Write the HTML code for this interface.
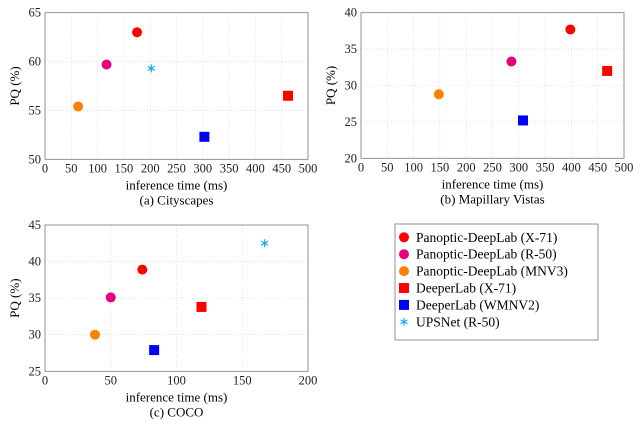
<!DOCTYPE html>
<html><head><meta charset="utf-8"><style>
body{margin:0;background:#fff}
svg, svg text{font-family:"Liberation Serif","Times New Roman","DejaVu Serif",serif}
</style></head><body>
<svg id="fig" width="640" height="426" viewBox="0 0 640 426"></svg>
<script>
const seriesNames=["Panoptic-DeepLab (X-71)","Panoptic-DeepLab (R-50)","Panoptic-DeepLab (MNV3)","DeeperLab (X-71)","DeeperLab (WMNV2)","UPSNet (R-50)"];
const seriesColors=["#ff0000","#e6007e","#ff7f00","#ff0000","#0000ff","#00aaff"];
const seriesShapes=["circle","circle","circle","square","square","star"];
const cityTime=[175,117,63,462,303,202];
const cityPQ=[63,59.7,55.4,56.5,52.3,59.3];
const vistasTime=[398,286,148,468,308,null];
const vistasPQ=[37.7,33.3,28.8,32,25.2,null];
const cocoTime=[74,50,38,119,83,167];
const cocoPQ=[38.9,35.1,30,33.8,27.9,42.5];
const cityXTicks=[0,50,100,150,200,250,300,350,400,450,500];
const cityYTicks=[50,55,60,65];
const vistasXTicks=[0,50,100,150,200,250,300,350,400,450,500];
const vistasYTicks=[20,25,30,35,40];
const cocoXTicks=[0,50,100,150,200];
const cocoYTicks=[25,30,35,40,45];

const NS="http://www.w3.org/2000/svg";
const FONT='"Liberation Serif","Times New Roman","DejaVu Serif",serif';
const svg=document.getElementById('fig');
function mk(tag,attrs,parent){const e=document.createElementNS(NS,tag);for(const k in attrs)e.setAttribute(k,attrs[k]);if(tag==='text')e.setAttribute('font-family',FONT);(parent||svg).appendChild(e);return e;}
function marker(g,shape,color,cx,cy){
  let e;
  if(shape==="circle"){e=mk('circle',{cx:cx,cy:cy,r:5,fill:color},g);}
  else if(shape==="square"){e=mk('rect',{x:cx-5,y:cy-5,width:10,height:10,fill:color},g);}
  else{
    let d="";for(let i=0;i<3;i++){const a=i*Math.PI/3+Math.PI/2;d+=`M${cx+4*Math.cos(a)},${cy+4*Math.sin(a)}L${cx-4*Math.cos(a)},${cy-4*Math.sin(a)}`;}
    e=mk('path',{d:d,stroke:color,'stroke-width':1.1,fill:'none'},g);
  }
  return e;
}
function chart(name,x0,x1,y0,y1,xTicks,yTicks,times,pqs,caption){
  const g=mk('g',{});
  
  
  const xmin=xTicks[0],xmax=xTicks[xTicks.length-1],ymin=yTicks[0],ymax=yTicks[yTicks.length-1];
  const sx=v=>x0+(v-xmin)/(xmax-xmin)*(x1-x0);
  const sy=v=>y1-(v-ymin)/(ymax-ymin)*(y1-y0);
  xTicks.forEach(t=>{
    if(t!==xmin&&t!==xmax){const l=mk('line',{x1:sx(t),x2:sx(t),y1:y0,y2:y1,stroke:'#ccc','stroke-width':0.6,'stroke-dasharray':'1,2'},g);}
    const tx=mk('text',{x:sx(t),y:y1+13,'font-size':12.5,'text-anchor':'middle',fill:'#222'},g);tx.textContent=t;
    
  });
  yTicks.forEach(t=>{
    if(t!==ymin&&t!==ymax){const l=mk('line',{x1:x0,x2:x1,y1:sy(t),y2:sy(t),stroke:'#ccc','stroke-width':0.6,'stroke-dasharray':'1,2'},g);}
    const tx=mk('text',{x:x0-4,y:sy(t)+4,'font-size':12.5,'text-anchor':'end',fill:'#222'},g);tx.textContent=t;
    
  });
  const fr=mk('rect',{x:x0,y:y0,width:x1-x0,height:y1-y0,fill:'none',stroke:'#777','stroke-width':0.8},g);
  
  times.forEach((t,i)=>{if(t==null)return;const m=marker(g,seriesShapes[i],seriesColors[i],sx(t),sy(pqs[i]));
    });
  const xl=mk('text',{x:(x0+x1)/2,y:y1+30,'font-size':13,'text-anchor':'middle'},g);xl.textContent='inference time (ms)';
  
  const yl=mk('text',{x:0,y:0,'font-size':13,'text-anchor':'middle',transform:`translate(${x0-26},${(y0+y1)/2}) rotate(-90)`},g);yl.textContent='PQ (%)';
  
  const cp=mk('text',{x:(x0+x1)/2,y:y1+45,'font-size':13,'text-anchor':'middle'},g);cp.textContent=caption;
  
}
chart('cityscapes-chart',45,308,12.7,159.3,cityXTicks,cityYTicks,cityTime,cityPQ,'(a) Cityscapes');
chart('vistas-chart',361,624,12.7,158.3,vistasXTicks,vistasYTicks,vistasTime,vistasPQ,'(b) Mapillary Vistas');
chart('coco-chart',45,308,225,371.3,cocoXTicks,cocoYTicks,cocoTime,cocoPQ,'(c) COCO');
const lg=mk('g',{});


mk('rect',{x:395,y:224,width:203,height:116,fill:'#fff',stroke:'#777','stroke-width':0.8},lg);
seriesNames.forEach((n,i)=>{
  const cy=237.3+i*16.9;
  const m=marker(lg,seriesShapes[i],seriesColors[i],404,cy);
  
  
  const t=mk('text',{x:416,y:cy+4.5,'font-size':13.5},lg);t.textContent=n;
  
  
});
</script>
</body></html>
